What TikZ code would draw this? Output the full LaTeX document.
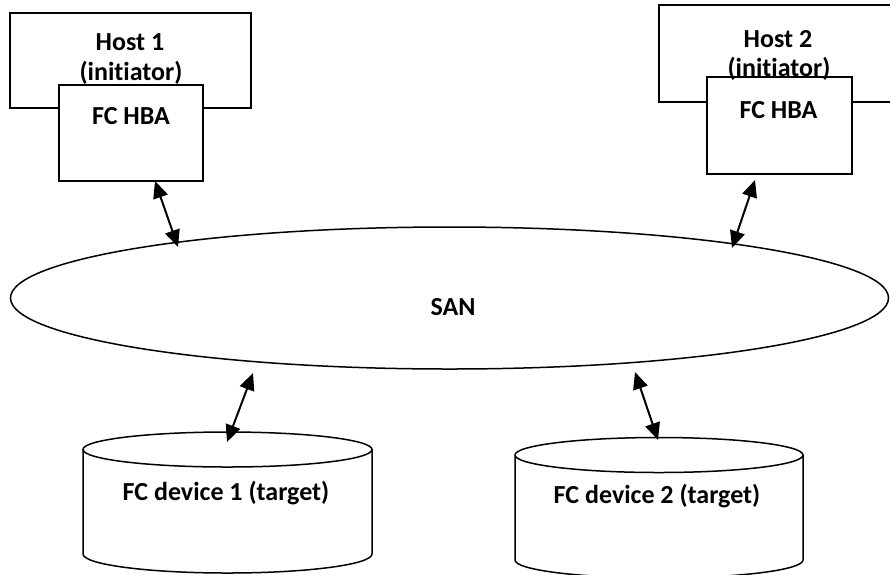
\documentclass[tikz,border=0pt]{standalone}
\usepackage{fontspec}
\setmainfont{Carlito}[Ligatures=NoCommon]
\usetikzlibrary{arrows.meta,shapes.geometric}
\begin{document}
\begin{tikzpicture}[x=1pt,y=1pt,
  box/.style={draw, line width=1.7pt, fill=white, inner sep=0pt},
  lbl/.style={font=\fontsize{26}{30}\selectfont\bfseries, inner sep=0pt, anchor=base},
  cyl/.style={line width=1.5pt},
  link/.style={line width=2pt, {Triangle[length=17pt,width=15pt]}-{Triangle[length=17pt,width=15pt]}}]
\fill[white] (0,0) rectangle (890,-574);
\clip (0,0) rectangle (890,-574);
% hosts
\node[box, minimum width=241pt, minimum height=95pt] (host1) at (130.5,-60.5) {};
\node[box, minimum width=144pt, minimum height=96pt] (hba1) at (131,-133) {};
\node[box, minimum width=246pt, minimum height=97pt] (host2) at (782,-53.5) {};
\node[box, minimum width=145pt, minimum height=97pt] (hba2) at (779.5,-125.5) {};
\node[lbl] (h1a) at (130,-50) {Host 1};
\node[lbl] (h1b) at (131,-80) {(initiator)};
\node[lbl] (hba1t) at (131,-124) {FC HBA};
\node[lbl] (h2a) at (778,-47) {Host 2};
\node[lbl] (h2b) at (779,-76) {(initiator)};
\node[lbl] (hba2t) at (778.5,-118) {FC HBA};
% SAN
\node[draw, ellipse, line width=1.5pt, minimum width=878pt, minimum height=142pt, inner sep=0pt] (san) at (449.5,-298) {};
\node[lbl] (sant) at (453,-315) {SAN};
% devices
\draw[cyl] (227.5,-449.5) ellipse [x radius=144.5, y radius=17.5];
\draw[cyl] (83,-449.5) -- (83,-554) arc[start angle=180, end angle=360, x radius=144.5, y radius=19] -- (372,-449.5);
\node[lbl] (dev1) at (226,-500) {FC device 1 (target)};
\draw[cyl] (659,-455) ellipse [x radius=144, y radius=17.5];
\draw[cyl] (515,-455) -- (515,-560) arc[start angle=180, end angle=360, x radius=144, y radius=18] -- (803,-455);
\node[lbl] (dev2) at (657,-503) {FC device 2 (target)};
% link end points
\coordinate (a1s) at (155,-181);
\coordinate (a1e) at (178,-247);
\coordinate (a2s) at (755,-180);
\coordinate (a2e) at (732,-248);
\coordinate (a3s) at (253,-373);
\coordinate (a3e) at (227,-442);
\coordinate (a4s) at (635,-372);
\coordinate (a4e) at (658,-440);
\draw[link] (a1s) -- (a1e);
\draw[link] (a2s) -- (a2e);
\draw[link] (a3s) -- (a3e);
\draw[link] (a4s) -- (a4e);
\end{tikzpicture}
\end{document}
